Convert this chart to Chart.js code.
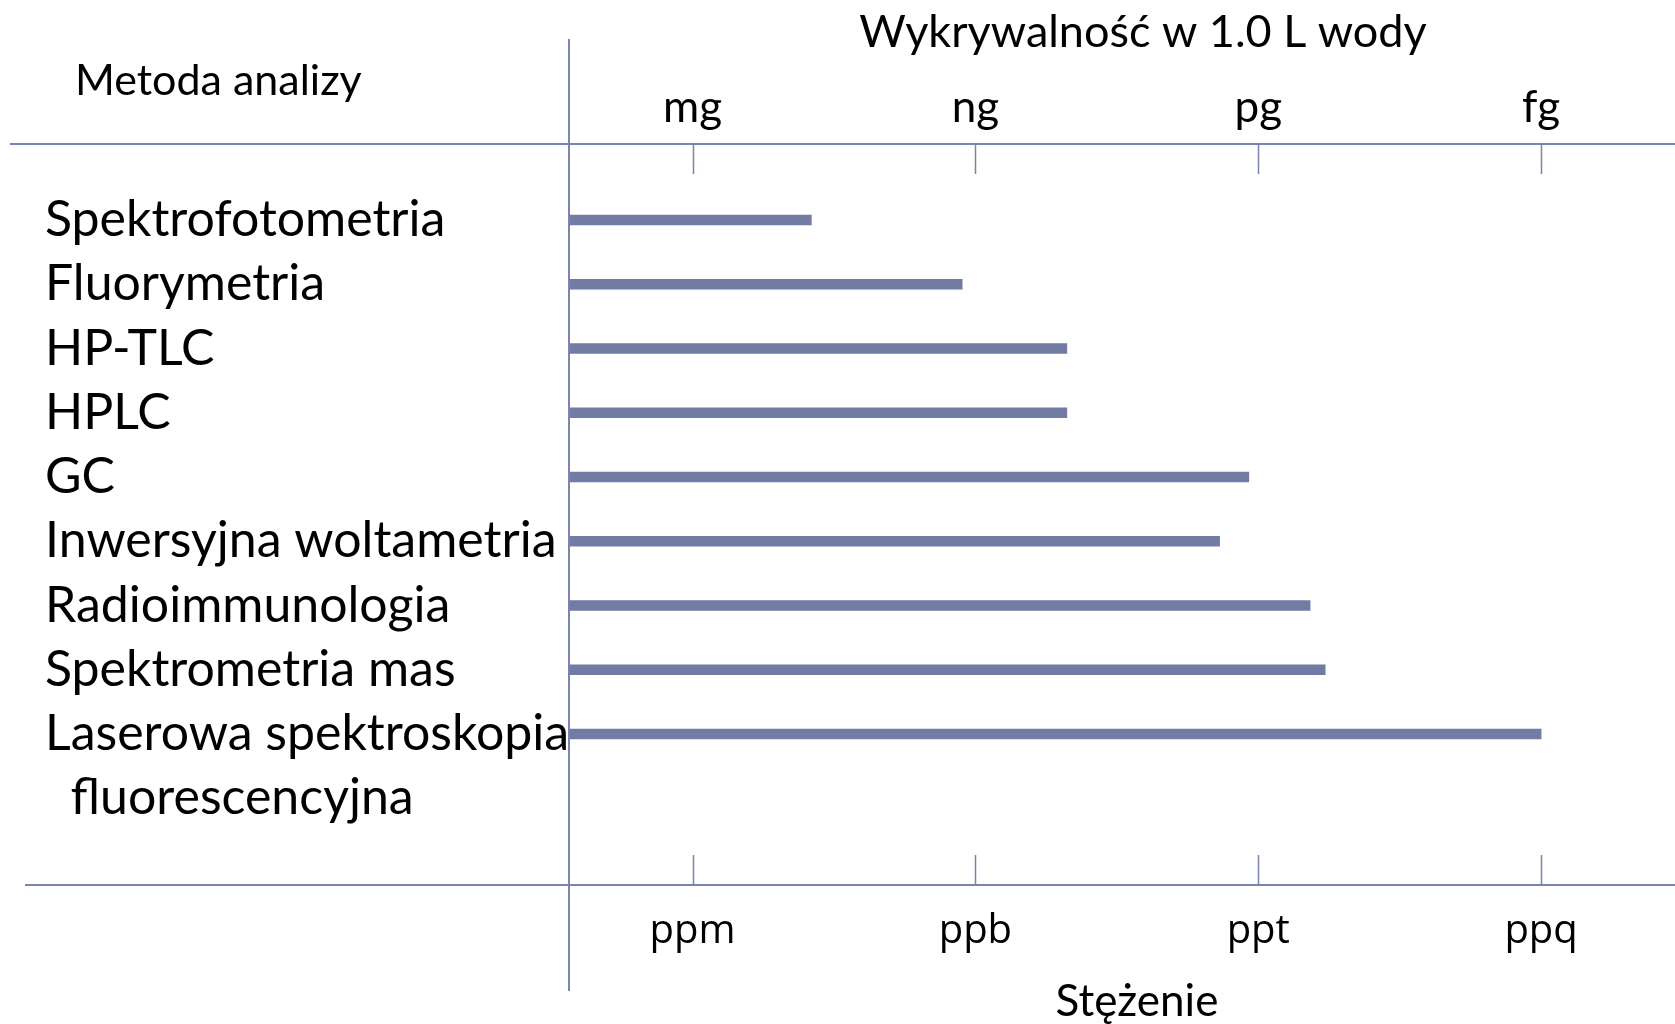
<!DOCTYPE html>
<html>
<head>
<meta charset="utf-8">
<script src="https://cdn.jsdelivr.net/npm/chart.js@4/dist/chart.umd.min.js"></script>
<style>
  html, body { margin: 0; padding: 0; background: #ffffff; }
  #wrap { width: 1675px; height: 1024px; }
</style>
</head>
<body>
<div id="wrap"><canvas id="c" width="1675" height="1024"></canvas></div>
<script>
// ---- data ----
// category labels; a nested array means a label on two lines
const categories = [
  'Spektrofotometria',
  'Fluorymetria',
  'HP-TLC',
  'HPLC',
  'GC',
  'Inwersyjna woltametria',
  'Radioimmunologia',
  'Spektrometria mas',
  ['Laserowa spektroskopia', '  fluorescencyjna']
];
// detection limit as -log10(concentration): 6 = ppm, 9 = ppb, 12 = ppt, 15 = ppq
const detectionLimits = [7.26, 8.86, 9.97, 9.97, 11.90, 11.59, 12.55, 12.71, 15.0];
const concentrationTickValues = [6, 9, 12, 15];
const concentrationLabels = ['ppm', 'ppb', 'ppt', 'ppq'];
const massLabels = ['mg', 'ng', 'pg', 'fg'];
const leftTitle = 'Metoda analizy';
const topTitle = 'Wykrywalność w 1.0 L wody';
const bottomTitle = 'Stężenie';

// ---- derived ----
const labelLines = [];
const rowIndex = [];
categories.forEach(c => {
  const lines = Array.isArray(c) ? c : [c];
  rowIndex.push(labelLines.length);
  lines.forEach(l => labelLines.push(l));
});

const LINE = '#7a84ad';
const BAR = '#717ba3';
const MAIN_FONT = 'Lato';

const frame = {
  id: 'frame',
  afterDatasetsDraw(chart) {
    const {ctx, chartArea: a, scales} = chart;
    const xs = scales.x;
    ctx.save();
    ctx.strokeStyle = LINE;
    ctx.lineWidth = 2;
    ctx.beginPath();
    // top and bottom rules, extended into the label area
    ctx.moveTo(10, a.top); ctx.lineTo(chart.width, a.top);
    ctx.moveTo(25, a.bottom); ctx.lineTo(chart.width, a.bottom);
    // vertical axis
    ctx.moveTo(a.left, a.top - 105); ctx.lineTo(a.left, a.bottom + 106);
    ctx.stroke();
    ctx.lineWidth = 1.5;
    ctx.beginPath();
    concentrationTickValues.forEach(v => {
      const px = Math.round(xs.getPixelForValue(v)) + 0.5;
      ctx.moveTo(px, a.top); ctx.lineTo(px, a.top + 30);
      ctx.moveTo(px, a.bottom - 30); ctx.lineTo(px, a.bottom);
    });
    ctx.stroke();
    // headings
    const cx = (a.left + a.right) / 2;
    ctx.fillStyle = '#000';
    ctx.textBaseline = 'middle';
    ctx.textAlign = 'center';
    ctx.font = '45px ' + MAIN_FONT;
    ctx.fillText(topTitle, cx + 21, 32);
    ctx.font = '44px ' + MAIN_FONT;
    ctx.fillText(bottomTitle, cx + 15, 1002);
    ctx.font = '43px ' + MAIN_FONT;
    ctx.textAlign = 'left';
    ctx.textBaseline = 'alphabetic';
    ctx.fillText(leftTitle, 75, 95);
    ctx.restore();
  }
};

const xCommon = {
  type: 'linear',
  min: 4.69,
  max: 16.42,
  offset: false,
  grid: { display: false, drawTicks: false },
  border: { display: false },
  afterBuildTicks: s => { s.ticks = concentrationTickValues.map(v => ({ value: v })); }
};

new Chart(document.getElementById('c'), {
  type: 'bar',
  data: {
    datasets: [{
      data: detectionLimits.map((v, i) => ({ x: v, y: rowIndex[i] })),
      backgroundColor: BAR,
      borderWidth: 0,
      barThickness: 10
    }]
  },
  options: {
    indexAxis: 'y',
    responsive: false,
    animation: false,
    events: [],
    layout: { padding: { left: 45, right: 0, top: 0, bottom: 0 } },
    plugins: { legend: { display: false }, tooltip: { enabled: false }, title: { display: false } },
    scales: {
      x: Object.assign({}, xCommon, {
        position: 'bottom',
        afterFit: s => { s.height = 139; },
        ticks: {
          autoSkip: false, maxRotation: 0, padding: 23, color: '#000',
          font: { family: 'Open Sans', size: 40, lineHeight: 1.2 },
          callback: (v, i) => concentrationLabels[i]
        },
        title: { display: false }
      }),
      x2: Object.assign({}, xCommon, {
        position: 'top',
        afterFit: s => { s.height = 144; },
        ticks: {
          autoSkip: false, maxRotation: 0, padding: 10, color: '#000',
          font: { family: MAIN_FONT, size: 44, lineHeight: 1.2 },
          callback: (v, i) => massLabels[i]
        },
        title: { display: false }
      }),
      y: {
        type: 'linear',
        reverse: true,
        offset: false,
        min: -1.183,
        max: 10.35,
        grid: { display: false, drawTicks: false },
        border: { display: false },
        afterBuildTicks: s => { s.ticks = labelLines.map((l, i) => ({ value: i })); },
        afterFit: s => { s.width = 524; },
        ticks: {
          autoSkip: false, crossAlign: 'far', padding: 0, color: '#000',
          font: { family: MAIN_FONT, size: 50, lineHeight: 1.2 },
          callback: v => labelLines[v]
        }
      }
    }
  },
  plugins: [frame]
});
</script>
</body>
</html>
